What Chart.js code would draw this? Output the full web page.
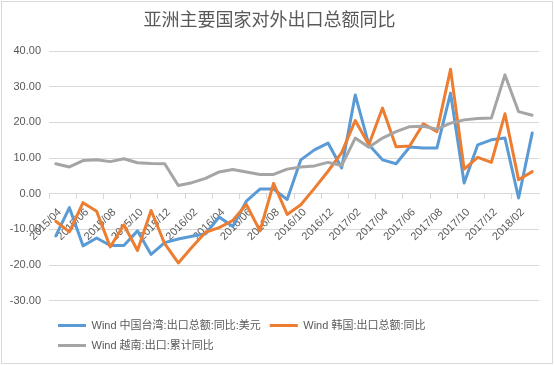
<!DOCTYPE html>
<html>
<head>
<meta charset="utf-8">
<script src="https://cdn.jsdelivr.net/npm/chart.js@4/dist/chart.umd.min.js"></script>
<style>
  body { margin: 0; background: #fff; }
  #wrap { position: relative; width: 554px; height: 365px; }
  #frame { position: absolute; left: 1px; top: 1px; width: 552px; height: 363px;
           border: 1px solid #d9d9d9; box-sizing: border-box; pointer-events: none; }
</style>
</head>
<body>
<div id="wrap">
  <canvas id="myChart" width="554" height="365"></canvas>
  <div id="frame"></div>
</div>
<script>
// monthly, 2015/04 - 2018/03
var months = ["2015/04","2015/05","2015/06","2015/07","2015/08","2015/09","2015/10","2015/11","2015/12",
  "2016/01","2016/02","2016/03","2016/04","2016/05","2016/06","2016/07","2016/08","2016/09","2016/10","2016/11","2016/12",
  "2017/01","2017/02","2017/03","2017/04","2017/05","2017/06","2017/07","2017/08","2017/09","2017/10","2017/11","2017/12",
  "2018/01","2018/02","2018/03"];

var taiwan = [-11.8, -3.9, -14.6, -12.4, -14.5, -14.5, -10.4, -17.0, -13.7, -12.7, -11.9, -11.2,
  -6.5, -9.2, -2.1, 1.3, 1.3, -1.6, 9.5, 12.3, 14.2, 7.2, 27.7, 13.7,
  9.5, 8.4, 13.1, 12.8, 12.8, 28.2, 3.0, 13.7, 15.1, 15.6, -1.2, 17.0];
var korea = [-7.7, -10.7, -2.5, -4.9, -14.9, -8.7, -15.9, -4.7, -14.0, -19.4, -15.0, -10.8,
  -9.5, -7.5, -3.0, -10.4, 2.9, -5.8, -3.1, 1.5, 6.3, 11.5, 20.5, 13.7,
  24.0, 13.2, 13.4, 19.6, 17.4, 34.9, 6.9, 10.2, 8.8, 22.4, 3.9, 6.2];
var vietnam = [8.4, 7.5, 9.3, 9.5, 9.0, 9.8, 8.7, 8.5, 8.4, 2.3, 3.1, 4.3,
  6.1, 6.8, 6.1, 5.4, 5.4, 6.9, 7.5, 7.8, 8.8, 7.9, 15.6, 13.0,
  15.6, 17.4, 18.8, 18.9, 18.1, 19.8, 20.7, 21.1, 21.2, 33.3, 23.0, 22.0];

var seriesNames = ["Wind 中国台湾:出口总额:同比:美元", "Wind 韩国:出口总额:同比", "Wind 越南:出口:累计同比"];
var seriesColors = ["#5B9BD5", "#ED7D31", "#A5A5A5"];

var fontFam = "'Liberation Sans', 'Noto Sans CJK SC', sans-serif";
var textColor = "#595959";
var gridColor = "#d9d9d9";

function line(i, values, order) {
  return {
    label: seriesNames[i],
    data: values,
    borderColor: seriesColors[i],
    backgroundColor: seriesColors[i],
    borderWidth: 3,
    pointRadius: 0,
    tension: 0,
    borderJoinStyle: "round",
    borderCapStyle: "round",
    order: order
  };
}

var ctx = document.getElementById("myChart").getContext("2d");
var myChart = new Chart(ctx, {
  type: "line",
  data: {
    labels: months,
    datasets: [line(0, taiwan, 3), line(1, korea, 2), line(2, vietnam, 1)]
  },
  options: {
    responsive: false,
    animation: false,
    layout: { padding: { left: 0, right: 15, top: 0, bottom: 4 } },
    plugins: {
      title: {
        display: true,
        text: "亚洲主要国家对外出口总额同比",
        color: textColor,
        font: { family: fontFam, size: 18, weight: "normal" },
        padding: { top: 10, bottom: 19.4 }
      },
      legend: {
        position: "bottom",
        align: "start",
        fullSize: false,
        title: { display: true, text: "", font: { size: 1 }, padding: { top: 9, bottom: 0 } },
        labels: {
          color: textColor,
          font: { family: fontFam, size: 11 },
          boxWidth: 28,
          boxHeight: 3,
          padding: 9,
          generateLabels: function (chart) {
            return chart.data.datasets.map(function (ds, i) {
              return {
                text: ds.label,
                fillStyle: ds.borderColor,
                strokeStyle: ds.borderColor,
                lineWidth: 0,
                fontColor: textColor,
                datasetIndex: i
              };
            });
          }
        }
      },
      tooltip: { enabled: false }
    },
    scales: {
      x: {
        position: { y: 0 },
        offset: true,
        grid: {
          offset: true,
          drawOnChartArea: false,
          drawTicks: true,
          tickLength: 5,
          color: function (c) { return c.index % 2 === 0 ? gridColor : "rgba(0,0,0,0)"; }
        },
        border: { display: true, color: gridColor },
        ticks: {
          autoSkip: false,
          minRotation: 45,
          maxRotation: 45,
          padding: 7,
          labelOffset: 4,
          color: textColor,
          font: { family: fontFam, size: 11 },
          callback: function (val, idx) { return idx % 2 === 0 ? this.getLabelForValue(val) : ""; }
        }
      },
      y: {
        min: -30,
        max: 40,
        afterFit: function (s) { s.width = 49; },
        grid: { color: gridColor, drawTicks: false },
        border: { display: false },
        ticks: {
          stepSize: 10,
          padding: 8,
          color: textColor,
          font: { family: fontFam, size: 11 },
          callback: function (v) { return v.toFixed(2); }
        }
      }
    }
  }
});
</script>
</body>
</html>
